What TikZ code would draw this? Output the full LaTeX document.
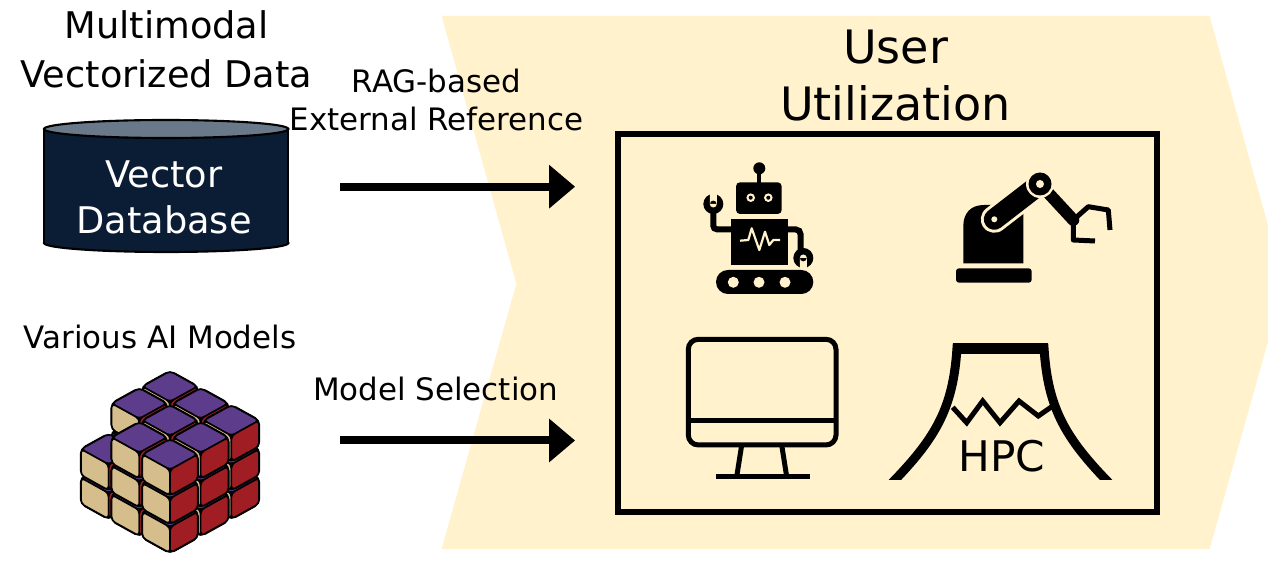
\documentclass[tikz,border=0pt]{standalone}
\usepackage{fontspec}
\setmainfont{DejaVu Sans}
\usetikzlibrary{arrows.meta}

\definecolor{banner}{RGB}{255,242,204}
\definecolor{dbbody}{RGB}{10,29,52}
\definecolor{dblid}{RGB}{106,121,138}
\definecolor{cubetop}{RGB}{94,60,140}
\definecolor{cubeleft}{RGB}{214,190,140}
\definecolor{cuberight}{RGB}{160,30,35}

\begin{document}
\begin{tikzpicture}[x=0.02cm,y=-0.02cm,>={Triangle[length=0.52cm,width=0.84cm]},
  head label/.style={font=\fontsize{20.9}{27.9}\selectfont,align=center,inner sep=0pt},
  side label/.style={font=\fontsize{17.6}{21.8}\selectfont,align=center,inner sep=0pt},
  title label/.style={font=\fontsize{26.2}{32.3}\selectfont,align=center,inner sep=0pt},
  db label/.style={font=\fontsize{20.9}{26.6}\selectfont,align=center,inner sep=0pt,text=white},
  flow/.style={->,line width=0.16cm,shorten >=0.8cm},
  db line/.style={draw=black,line width=1.2pt},
  icon line/.style={line width=0.1cm},
  cube shell/.style={fill=black,draw=black,line width=1.4pt,rounded corners=2.8pt},
  cube face/.style={draw=black,line width=0.9pt,rounded corners=2.2pt}]
  \useasboundingbox (0,0) rectangle (1268,563);
  \clip (0,0) rectangle (1268,563);

  \fill[banner] (441.6,16) -- (1209.6,16) -- (1284.3,283.7) -- (1209.6,549)
    -- (441.6,549) -- (516.3,283.7) -- cycle;

  \node[head label,anchor=north] (multimodal) at (166.5,10.4) {Multimodal\\Vectorized Data};
  \node[side label,anchor=north] (rag) at (436.5,68.3) {RAG-based\\External Reference};
  \node[title label,anchor=north] (user) at (895.5,29.8) {User\\Utilization};
  \node[side label,anchor=base] (models) at (160,348.8) {Various AI Models};
  \node[side label,anchor=base] (selection) at (435.6,400.6) {Model Selection};

  \node[draw,line width=0.12cm,inner sep=0pt,minimum width=10.77cm,minimum height=7.56cm]
    (apps) at (887.3,322.7) {};

  \filldraw[fill=dbbody,db line] (166.2,243) ellipse [x radius=122.2,y radius=9];
  \fill[dbbody] (44,129) rectangle (288.3,243);
  \draw[db line] (44,129) -- (44,243) (288.3,129) -- (288.3,243);
  \filldraw[fill=dblid,db line] (166.2,129) ellipse [x radius=122.2,y radius=9];
  \node[db label,anchor=north] (db) at (164,160) {Vector\\Database};

  \coordinate (ragstart) at (340,186.7);
  \coordinate (selstart) at (340,440.5);
  \draw[flow] (ragstart) -- (ragstart -| apps.west);
  \draw[flow] (selstart) -- (selstart -| apps.west);

  \fill (759.3,168.3) circle (6);
  \fill (757.3,170) rectangle (761.3,183);
  \fill[rounded corners=2.3pt] (736,182.3) rectangle (781.7,214);
  \fill[banner] (750.7,197.7) circle (4.3) (768.3,197.7) circle (4.3);
  \fill (750.7,197.7) circle (2) (768.3,197.7) circle (2);
  \fill (730.7,219.3) rectangle (788.3,265);
  \draw[banner,line width=0.044cm,line join=round] (740,240.7) -- (748.3,240) -- (751.7,228.3)
    -- (759.3,250) -- (765,231.7) -- (769.3,245) -- (773.3,240) -- (780,240);
  \draw[line width=0.12cm,rounded corners=2pt] (731,229.3) -- (713.3,229.3) -- (713.3,206);
  \fill (713.3,204) circle (10);
  \fill[banner] (713.3,204) circle (3.5) (709.8,192) rectangle (716.8,204);
  \draw[line width=0.12cm,rounded corners=3pt] (788,229.3) -- (800.7,229.3) -- (800.7,252);
  \fill (803.3,258) circle (10);
  \fill[banner] (803.3,258) circle (3.5) (799.8,258) rectangle (806.8,270);
  \fill[rounded corners=6.8pt] (716,270) rectangle (813.3,294);
  \fill[banner] (733.3,282.3) circle (5.5) (759,282.3) circle (5.5) (785,282.3) circle (5.5);

  \fill[rounded corners=1.7pt] (956,282.7) -- (956,268.3) -- (1031.7,268.3) -- (1031.7,282.7) -- cycle;
  \fill (963.3,263.3) -- (963.3,226) .. controls (963.3,213) and (971,205) .. (984,205)
    -- (1023.3,205) -- (1023.3,263.3) -- cycle;
  \draw[banner,line width=0.54cm,line cap=round] (994.3,219.3) -- (1040,184);
  \draw[line width=0.42cm,line cap=round] (994.3,219.3) -- (1040,184);
  \draw[line width=0.24cm,line cap=round] (1040,184) -- (1073.3,220);
  \fill[banner] (1040,184) circle (14);
  \fill (1040,184) circle (11.5);
  \fill[banner] (1040,184) circle (4) (994.3,219.3) circle (3);
  \draw[icon line,line join=round] (1073.3,220) -- (1088.3,206.7) -- (1108.3,210) -- (1110,230);
  \draw[icon line,line join=round] (1073.3,220) -- (1073.3,240) -- (1095,241);

  \draw[icon line,rounded corners=5.7pt] (688.3,339.3) rectangle (836,445);
  \draw[icon line] (688.3,420.7) -- (836,420.7);
  \draw[icon line] (741.7,445) -- (736.7,476.7) (781.7,445) -- (786.7,476.7);
  \draw[icon line] (715.7,476.7) -- (810,476.7);

  \begin{scope}
    \clip (870,330) rectangle (1130,480);
    \draw[line width=0.18cm] (885,490) .. controls (935,440) and (953,410) .. (957,348)
      -- (1044,348) .. controls (1048,410) and (1066,440) .. (1116,490);
  \end{scope}
  \fill (952.7,342.7) rectangle (1048.3,354);
  \draw[icon line] (952.7,407.3) -- (966.7,422.7) -- (982.7,401) -- (1000,422.7)
    -- (1019,401) -- (1038.3,416) -- (1051.7,406.7);
  \node[font=\fontsize{24}{28}\selectfont,anchor=base,inner sep=0pt] (hpc) at (1001.7,471.7) {HPC};

  \begin{scope}[shift={(170,454.1)},x={(0.614cm,-0.34cm)},y={(-0.614cm,-0.34cm)},z={(0cm,0.574cm)}]
    \foreach \s in {0,...,6}
      \foreach \ck in {0,1,2}
        \foreach \ci in {0,1,2}{
          \pgfmathtruncatemacro\cj{\s-\ci-\ck}
          \pgfmathtruncatemacro\gone{(\cj<0)||(\cj>2)||((\ci==0)&&(\cj==2)&&(\ck==2))}
          \ifnum\gone=0
            \pgfmathsetmacro\xl{\ci+0.05}\pgfmathsetmacro\xh{\ci+0.95}
            \pgfmathsetmacro\yl{\cj+0.05}\pgfmathsetmacro\yh{\cj+0.95}
            \pgfmathsetmacro\zl{\ck+0.05}\pgfmathsetmacro\zh{\ck+0.95}
            \path[cube shell] (\xl,\yl,\zh) -- (\xh,\yl,\zh) -- (\xh,\yl,\zl) -- (\xh,\yh,\zl)
              -- (\xl,\yh,\zl) -- (\xl,\yh,\zh) -- cycle;
            \path[cube face,fill=cubetop] (\xl,\yl,\zh) -- (\xh,\yl,\zh) -- (\xh,\yh,\zh) -- (\xl,\yh,\zh) -- cycle;
            \path[cube face,fill=cubeleft] (\xl,\yh,\zh) -- (\xh,\yh,\zh) -- (\xh,\yh,\zl) -- (\xl,\yh,\zl) -- cycle;
            \path[cube face,fill=cuberight] (\xh,\yl,\zh) -- (\xh,\yh,\zh) -- (\xh,\yh,\zl) -- (\xh,\yl,\zl) -- cycle;
          \fi
        }
  \end{scope}
\end{tikzpicture}
\end{document}
